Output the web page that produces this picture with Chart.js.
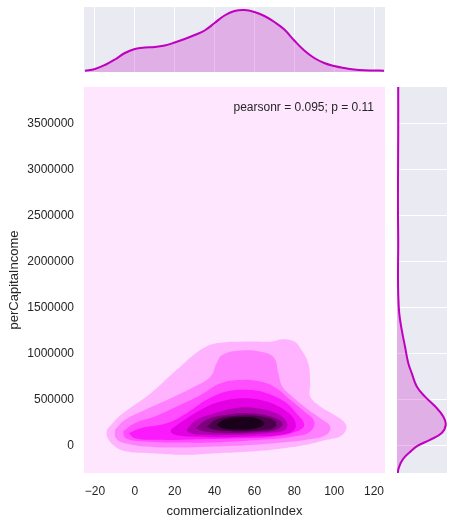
<!DOCTYPE html>
<html>
<head>
<meta charset="utf-8">
<script src="https://cdn.jsdelivr.net/npm/chart.js@4.4.1/dist/chart.umd.min.js"></script>
<style>
  html, body { margin: 0; padding: 0; background: #fff; }
  #wrap { position: relative; width: 449px; height: 522px; }
  #wrap canvas { position: absolute; left: 0; top: 0; }
</style>
</head>
<body>
<div id="wrap">
  <canvas id="mainChart" width="449" height="522"></canvas>
  <canvas id="topChart" width="449" height="522"></canvas>
  <canvas id="rightChart" width="449" height="522"></canvas>
</div>
<script>
// Axis ticks and ranges
const xTicks = [-20, 0, 20, 40, 60, 80, 100, 120];
const yTicks = [0, 500000, 1000000, 1500000, 2000000, 2500000, 3000000, 3500000];
const xRange = [-25.5, 125.5];
const yRange = [-295000, 3900000];
const statsText = 'pearsonr = 0.095; p = 0.11';

// KDE contour outlines [commercializationIndex, perCapitaIncome], outer -> inner
const contour1 = [[-14,174000],[-7,337000],[8,573000],[21,826000],[33,1044000],[41,1116000],[58,1134000],[69,1134000],[74,1159000],[80,1134000],[83,1062000],[87,899000],[88,681000],[88,536000],[93,428000],[100,337000],[105.5,246000],[106,174000],[103,102000],[96,65000],[86,11000],[75,-25000],[58,-61000],[41,-80000],[25,-98000],[8,-80000],[-4,-61000],[-10,-7000],[-14,102000]];
const contour2 = [[-10,174000],[-5,283000],[5,391000],[18,518000],[30,645000],[38,754000],[41,899000],[44,989000],[53,1036000],[65,1015000],[70,953000],[72,790000],[74,645000],[79,536000],[86,410000],[93,301000],[98,210000],[96,120000],[86,65000],[70,29000],[50,0],[30,-14000],[10,-14000],[-4,22000],[-9.5,83000]];
const contour3 = [[-6,156000],[0,246000],[10,319000],[21,428000],[33,554000],[43,681000],[53,717000],[63,699000],[71,627000],[78,500000],[85,373000],[90,265000],[88,156000],[80,102000],[63,65000],[43,40000],[21,36000],[5,47000],[-4.5,83000]];
const contour4 = [[-3,138000],[3,192000],[16,246000],[26,355000],[36,500000],[46,591000],[56,609000],[66,573000],[75,482000],[81,355000],[85,228000],[81,156000],[70,102000],[53,83000],[33,73000],[13,65000],[0,83000]];
const contour5 = [[18,174000],[25,283000],[33,391000],[43,482000],[55,518000],[66,482000],[75,391000],[80,283000],[80,174000],[73,120000],[58,102000],[38,94000],[23,109000],[18.5,138000]];
const contour6 = [[26,174000],[31,283000],[40,355000],[50,410000],[61,410000],[71,355000],[76,265000],[75.5,174000],[66,138000],[50,120000],[33,120000],[27,145000]];
const contour7 = [[30.5,192000],[36,283000],[46,337000],[58,355000],[68,319000],[74,246000],[71,174000],[61,149000],[46,138000],[35,156000]];
const contour8 = [[36,210000],[41,290000],[51,326000],[61,326000],[70,275000],[70.5,203000],[63,167000],[50,156000],[40,174000]];
const contour9 = [[41,228000],[45,290000],[53,312000],[61,301000],[65,239000],[61,192000],[51,174000],[44,192000]];

// Marginal KDE of commercializationIndex (top)
const indexGrid = [-25,-20,-15,-10,-5,0,5,10,15,20,25,30,35,40,45,50,55,60,65,70,75,80,85,90,95,100,105,110,115,120,125];
const indexDensity = [0.00026,0.0006,0.0014,0.0025,0.0038,0.0046,0.0049,0.0050,0.0053,0.0059,0.0066,0.0074,0.0083,0.0098,0.0113,0.0122,0.0124,0.0120,0.0112,0.0100,0.0085,0.0063,0.0043,0.0028,0.0018,0.0012,0.0008,0.0005,0.00035,0.0003,0.00026];

// Marginal KDE of perCapitaIncome (right), density x 1e6
const incomeGrid = [-295000,-260000,-225000,-170000,-115000,-60000,0,65000,140000,230000,320000,430000,535000,645000,790000,900000,1080000,1260000,1440000,1650000,1900000,2200000,2500000,2900000,3400000,3900000];
const incomeDensity = [0.03,0.05,0.09,0.18,0.33,0.55,0.82,1.32,1.79,1.95,1.85,1.52,1.12,0.79,0.59,0.45,0.32,0.19,0.09,0.05,0.04,0.05,0.04,0.04,0.05,0.05];

const contours = [contour1, contour2, contour3, contour4, contour5, contour6, contour7, contour8, contour9];
const bandColors = ['#ffe6ff', '#ffb3ff', '#ff80ff', '#ff4dff', '#fb1afb', '#e300e3', '#b100b1', '#7f007f', '#4c004c', '#1a001a'];
const textColor = '#262626';
const lineColor = '#bf00bf';

Chart.defaults.font.family = '"Liberation Sans", Arial, sans-serif';
Chart.defaults.color = textColor;

// Fill the plot area
const areaBackground = {
    id: 'areaBackground',
    beforeDraw(chart, args, opts) {
        const { ctx, chartArea: a } = chart;
        ctx.save();
        ctx.fillStyle = opts.color;
        ctx.fillRect(a.left, a.top, a.width, a.height);
        ctx.restore();
    }
};

// pearsonr annotation in the top right corner
const statsLabel = {
    id: 'statsLabel',
    afterDraw(chart) {
        const { ctx, chartArea: a } = chart;
        ctx.save();
        ctx.font = '12px "Liberation Sans", Arial, sans-serif';
        ctx.fillStyle = textColor;
        ctx.textAlign = 'right';
        ctx.textBaseline = 'middle';
        ctx.fillText(statsText, a.right - 11, a.top + 21);
        ctx.restore();
    }
};

const setTicks = (values) => (scale) => {
    scale.ticks = values.map(v => ({ value: v }));
};

const fmt = (v) => (v < 0 ? '\u2212' + Math.abs(v) : String(v));

// Main joint KDE
new Chart(document.getElementById('mainChart'), {
    type: 'scatter',
    data: {
        datasets: contours.map((pts, i) => ({
            data: pts.concat([pts[0]]).map(p => ({ x: p[0], y: p[1] })),
            showLine: true,
            fill: 'shape',
            backgroundColor: bandColors[i + 1],
            borderColor: 'transparent',
            borderWidth: 0,
            pointRadius: 0,
            tension: 0.4,
            order: contours.length - i
        }))
    },
    options: {
        responsive: false,
        animation: false,
        layout: { padding: { left: 0, right: 64, top: 87, bottom: 0 } },
        plugins: {
            legend: { display: false },
            tooltip: { enabled: false },
            areaBackground: { color: bandColors[0] }
        },
        scales: {
            x: {
                type: 'linear',
                min: xRange[0],
                max: xRange[1],
                afterBuildTicks: setTicks(xTicks),
                afterFit: (s) => { s.height = 49; },
                grid: { display: false, drawTicks: false },
                border: { display: false },
                ticks: { padding: 11, autoSkip: false, maxRotation: 0, font: { size: 12 }, callback: fmt },
                title: { display: true, text: 'commercializationIndex', font: { size: 13 }, padding: { top: 0, bottom: 3 } }
            },
            y: {
                type: 'linear',
                min: yRange[0],
                max: yRange[1],
                afterBuildTicks: setTicks(yTicks),
                afterFit: (s) => { s.width = 84; },
                grid: { display: false, drawTicks: false },
                border: { display: false },
                ticks: { padding: 10, autoSkip: false, font: { size: 12 }, callback: fmt },
                title: { display: true, text: 'perCapitaIncome', font: { size: 13 }, padding: { top: 7, bottom: 0 } }
            }
        }
    },
    plugins: [areaBackground, statsLabel]
});

// Top marginal
new Chart(document.getElementById('topChart'), {
    type: 'line',
    data: {
        datasets: [{
            data: indexGrid.map((x, i) => ({ x: x, y: indexDensity[i] })),
            borderColor: lineColor,
            borderWidth: 2,
            backgroundColor: 'rgba(191,0,191,0.25)',
            fill: 'origin',
            pointRadius: 0,
            tension: 0.4
        }]
    },
    options: {
        responsive: false,
        animation: false,
        layout: { padding: { left: 84, right: 64, top: 7, bottom: 450 } },
        plugins: {
            legend: { display: false },
            tooltip: { enabled: false },
            areaBackground: { color: '#eaeaf2' }
        },
        scales: {
            x: {
                type: 'linear',
                min: xRange[0],
                max: xRange[1],
                afterBuildTicks: setTicks(xTicks),
                afterFit: (s) => { s.height = 0; },
                ticks: { display: false },
                grid: { color: '#ffffff', lineWidth: 1, drawTicks: false },
                border: { display: false }
            },
            y: { type: 'linear', min: 0, max: 0.013, display: false }
        }
    },
    plugins: [areaBackground]
});

// Right marginal
new Chart(document.getElementById('rightChart'), {
    type: 'line',
    data: {
        datasets: [{
            data: incomeGrid.map((y, i) => ({ x: incomeDensity[i], y: y })),
            borderColor: lineColor,
            borderWidth: 2,
            backgroundColor: 'rgba(191,0,191,0.25)',
            fill: 'origin',
            pointRadius: 0,
            tension: 0.4
        }]
    },
    options: {
        indexAxis: 'y',
        responsive: false,
        animation: false,
        layout: { padding: { left: 397, right: 2, top: 87, bottom: 49 } },
        plugins: {
            legend: { display: false },
            tooltip: { enabled: false },
            areaBackground: { color: '#eaeaf2' }
        },
        scales: {
            x: { type: 'linear', min: 0, max: 2.0, display: false },
            y: {
                type: 'linear',
                min: yRange[0],
                max: yRange[1],
                afterBuildTicks: setTicks(yTicks),
                afterFit: (s) => { s.width = 0; },
                ticks: { display: false },
                grid: { color: '#ffffff', lineWidth: 1, drawTicks: false },
                border: { display: false }
            }
        }
    },
    plugins: [areaBackground]
});
</script>
</body>
</html>
